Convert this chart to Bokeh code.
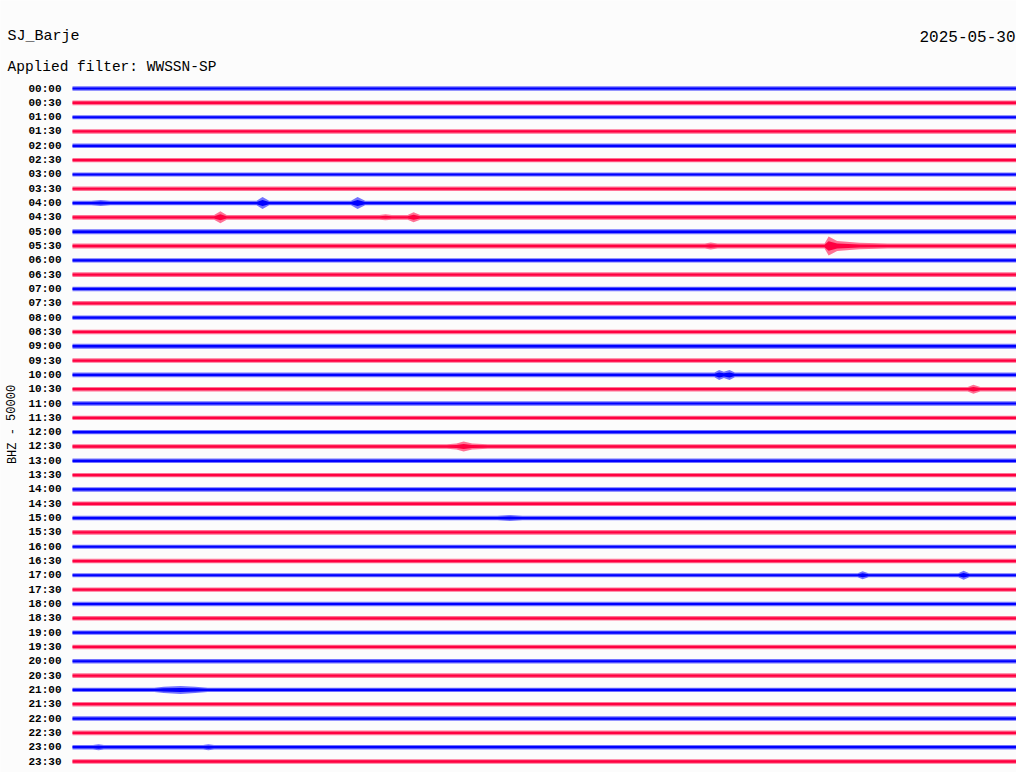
from bokeh.plotting import figure
from bokeh.models import Range1d, Label
from bokeh.embed import file_html
from bokeh.resources import INLINE
from bokeh.core.properties import value

# ---------------- data ----------------
station = "SJ_Barje"
date_text = "2025-05-30"
filter_text = "Applied filter: WWSSN-SP"
channel_text = "BHZ - 50000"

row_labels = ["00:00", "00:30", "01:00", "01:30", "02:00", "02:30", "03:00", "03:30",
              "04:00", "04:30", "05:00", "05:30", "06:00", "06:30", "07:00", "07:30",
              "08:00", "08:30", "09:00", "09:30", "10:00", "10:30", "11:00", "11:30",
              "12:00", "12:30", "13:00", "13:30", "14:00", "14:30", "15:00", "15:30",
              "16:00", "16:30", "17:00", "17:30", "18:00", "18:30", "19:00", "19:30",
              "20:00", "20:30", "21:00", "21:30", "22:00", "22:30", "23:00", "23:30"]

# background noise envelope of each 30-minute trace (amplitude)
base_amp = [2.2, 2.4, 2.0, 2.2, 2.2, 2.2, 2.0, 2.2,
            2.2, 2.3, 2.5, 2.6, 2.2, 2.3, 2.2, 2.3,
            2.2, 2.3, 2.4, 2.3, 2.3, 2.3, 2.2, 2.2,
            2.2, 2.3, 2.2, 2.2, 2.2, 2.3, 2.3, 2.3,
            2.0, 2.2, 2.0, 2.2, 2.2, 2.3, 2.2, 2.3,
            2.2, 2.3, 2.2, 2.3, 2.2, 2.3, 2.2, 2.3]

# envelope points of the events (trace index, minute within trace, amplitude)
env_row = [8, 8, 8, 8, 8, 8, 8, 8, 8,
           9, 9, 9, 9, 9, 9, 9, 9, 9,
           11, 11, 11, 11, 11, 11, 11, 11,
           20, 20, 20, 20, 20,
           21, 21, 21,
           25, 25, 25, 25, 25,
           30, 30, 30,
           34, 34, 34, 34, 34, 34,
           42, 42, 42, 42, 42,
           46, 46, 46, 46, 46, 46]
env_min = [0.6, 0.9, 1.2, 5.85, 6.04, 6.25, 8.85, 9.06, 9.3,
           4.5, 4.70, 4.9, 9.75, 9.95, 10.15, 10.65, 10.84, 11.05,
           20.1, 20.28, 20.5, 23.9, 24.03, 24.3, 25.0, 25.9,
           20.4, 20.55, 20.7, 20.88, 21.05,
           28.45, 28.63, 28.85,
           11.9, 12.2, 12.43, 12.7, 13.2,
           13.5, 13.9, 14.3,
           24.95, 25.11, 25.3, 28.15, 28.32, 28.5,
           2.6, 2.9, 3.43, 3.9, 4.3,
           0.65, 0.83, 1.0, 4.15, 4.32, 4.5]
env_amp = [2.2, 3.0, 2.2, 2.2, 6.0, 2.2, 2.2, 6.0, 2.2,
           2.3, 6.0, 2.3, 2.3, 3.0, 2.3, 2.3, 5.0, 2.3,
           2.6, 3.4, 2.6, 2.6, 9.5, 5.0, 3.2, 2.6,
           2.3, 5.0, 3.2, 5.0, 2.3,
           2.3, 4.5, 2.3,
           2.3, 3.0, 5.0, 3.0, 2.3,
           2.3, 3.0, 2.3,
           2.0, 4.0, 2.0, 2.0, 4.5, 2.0,
           2.2, 3.2, 4.0, 3.2, 2.2,
           2.2, 3.0, 2.2, 2.2, 3.0, 2.2]

trace_minutes = 30.0

# ---------------- layout ----------------
W, H = 1016, 772
FIRST_ROW_PX, LAST_ROW_PX = 88.0, 761.0
PX_PER_ROW = (LAST_ROW_PX - FIRST_ROW_PX) / 47.0
LEFT_PX = 72.0
PX_PER_MIN = (W - LEFT_PX) / trace_minutes
x0 = -LEFT_PX / PX_PER_MIN
ytop = FIRST_ROW_PX / PX_PER_ROW
ybot = -(47.0 + (H - LAST_ROW_PX) / PX_PER_ROW)
AMP_K = 1.0 / PX_PER_ROW

BLUE = "#0000ff"
RED = "#ff0040"
BG = "#fcfcfc"
FONT = "Liberation Mono"

p = figure(width=W, height=H, output_backend="svg", toolbar_location=None,
           x_range=Range1d(x0, trace_minutes), y_range=Range1d(ybot, ytop),
           x_axis_location=None, y_axis_location=None, min_border=0)
p.grid.visible = False
p.outline_line_color = None
p.background_fill_color = BG
p.border_fill_color = BG


def sx(cx):
    return x0 + cx / PX_PER_MIN


def sy(cy):
    return ytop - cy / PX_PER_ROW


for r in range(len(row_labels)):
    pts = [(0.0, base_amp[r]), (trace_minutes, base_amp[r])]
    pts += [(m, a) for rr, m, a in zip(env_row, env_min, env_amp) if rr == r]
    pts.sort()
    xs = [q[0] for q in pts]
    amps = [q[1] for q in pts]
    yc = -r
    color = BLUE if r % 2 == 0 else RED
    p.varea(x=xs, y1=[yc - a * AMP_K for a in amps], y2=[yc + a * AMP_K for a in amps],
            fill_color=color, fill_alpha=0.55)
    p.varea(x=xs, y1=[yc - a * AMP_K * 0.5 for a in amps], y2=[yc + a * AMP_K * 0.5 for a in amps],
            fill_color=color, fill_alpha=1.0)

# hour labels
p.text(x=[sx(61)] * len(row_labels), y=[-r for r in range(len(row_labels))], text=row_labels,
       text_align="right", text_baseline="middle", text_font=value(FONT),
       text_font_size="11px", text_font_style="bold", text_color="#000000")

# titles
p.add_layout(Label(x=sx(7), y=sy(36), text=station, text_font=FONT, text_font_size="15px",
                   text_align="left", text_baseline="alphabetic", text_color="#000000"))
p.add_layout(Label(x=sx(7), y=sy(66), text=filter_text, text_font=FONT, text_font_size="14.5px",
                   text_align="left", text_baseline="alphabetic", text_color="#000000"))
p.add_layout(Label(x=sx(1015), y=sy(36), text=date_text, text_font=FONT, text_font_size="16px",
                   text_align="right", text_baseline="alphabetic", text_color="#000000"))
p.add_layout(Label(x=sx(12), y=sy(424), text=channel_text, text_font=FONT, text_font_size="12px",
                   text_align="center", text_baseline="middle", angle=1.5708,
                   text_color="#000000"))

open("out.html", "w").write(file_html(p, INLINE))
